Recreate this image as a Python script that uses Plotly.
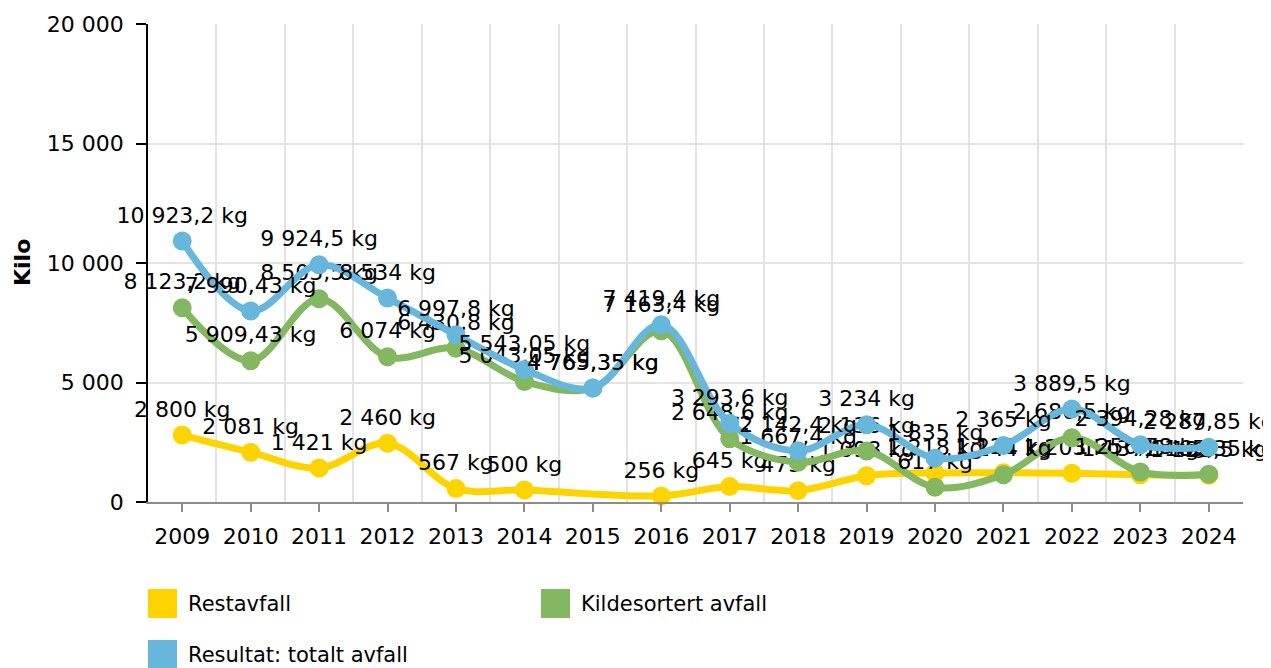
import plotly.graph_objects as go

years = list(range(2009, 2025))
restavfall = [2800, 2081, 1421, 2460, 567, 500, None, 256, 645, 475, 1098, 1218, 1221, 1203, 1137.5, 1122.5]
kildesortert = [8123.2, 5909.43, 8503.5, 6074, 6430.8, 5043.05, 4765.35, 7163.4, 2648.6, 1667.4, 2136, 617, 1144, 2686.5, 1256.78, 1165.35]
totalt = [10923.2, 7990.43, 9924.5, 8534, 6997.8, 5543.05, 4765.35, 7419.4, 3293.6, 2142.4, 3234, 1835, 2365, 3889.5, 2394.28, 2287.85]
series_names = ["Restavfall", "Kildesortert avfall", "Resultat: totalt avfall"]
colors = ["#fdd400", "#84b761", "#67b7dc"]
y_ticks = [0, 5000, 10000, 15000, 20000]


def fmt(v):
    if v is None:
        return ""
    s = f"{v:,}"
    s = s.replace(",", "\u0020").replace(".", ",")
    return s + " kg"


FONT = "DejaVu Sans, Verdana, sans-serif"
fig = go.Figure()
for name, vals, col in zip(series_names, [restavfall, kildesortert, totalt], colors):
    fig.add_trace(go.Scatter(
        x=years, y=vals, name=name, mode="lines+markers+text",
        line=dict(color=col, width=7, shape="spline", smoothing=1.0),
        marker=dict(color=col, size=19),
        text=[fmt(v) for v in vals], textposition="top center",
        textfont=dict(size=22, color="#000000", family=FONT),
        connectgaps=True, cliponaxis=False, showlegend=False,
    ))

# page body has an 8px margin: shift the figure margins to compensate
fig.update_layout(
    width=1271, height=668,
    margin=dict(l=140, r=36, t=16, b=174, autoexpand=False),
    paper_bgcolor="white", plot_bgcolor="white",
    separators=", ",
    font=dict(family=FONT, size=22, color="#000000"),
    showlegend=False,
)
fig.update_xaxes(
    range=[2008.5, 2024.5], tickvals=years, tickformat="d", automargin=False,
    showgrid=False, showline=True, linecolor="#8c8c8c", linewidth=1.5,
    ticks="outside", ticklen=8, tickcolor="#8c8c8c", tickwidth=1.5,
    ticklabelstandoff=6,
    tickfont=dict(size=22, family=FONT),
    minor=dict(tickvals=[y + 0.5 for y in range(2008, 2024)], showgrid=True,
               gridcolor="#e3e3e3", gridwidth=1.5, ticks=""),
    zeroline=False,
)
fig.update_yaxes(
    range=[0, 20000], tickvals=y_ticks, tickformat=",d", separatethousands=True,
    automargin=False,
    showgrid=True, gridcolor="#e3e3e3", gridwidth=1.5,
    showline=True, linecolor="#000000", linewidth=1.5,
    ticks="outside", ticklen=10, tickcolor="#000000", tickwidth=1.5,
    ticklabelstandoff=8,
    tickfont=dict(size=22, family=FONT),
    zeroline=False,
)
W, H = 1095, 478
fig.add_annotation(text="<b>Kilo</b>", textangle=-90, xref="paper", yref="paper",
                   x=(22 - 148) / W, y=0.5, xanchor="center", yanchor="middle",
                   showarrow=False, font=dict(size=22, family=FONT))

# manual legend with square swatches
leg = [(148, 589, series_names[0], colors[0]),
       (541, 589, series_names[1], colors[1]),
       (148, 640, series_names[2], colors[2])]
for px, py, name, col in leg:
    x0 = (px - 148) / W
    x1 = (px + 29 - 148) / W
    y0 = (502 - py) / H
    y1 = (502 - py - 29) / H
    fig.add_shape(type="rect", xref="paper", yref="paper", x0=x0, x1=x1, y0=y1, y1=y0,
                  fillcolor=col, line=dict(width=0))
    fig.add_annotation(text=name, xref="paper", yref="paper",
                       x=(px + 38 - 148) / W, y=(502 - py - 15) / H,
                       xanchor="left", yanchor="middle", showarrow=False,
                       font=dict(size=21, family=FONT))

fig.write_html("out.html")
